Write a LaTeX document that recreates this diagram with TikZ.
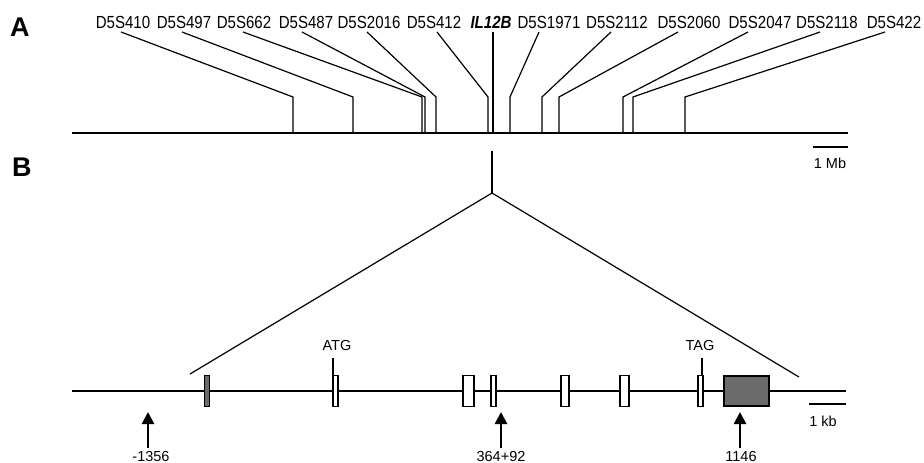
\documentclass[tikz,border=0pt]{standalone}
\usepackage{fontspec}
\setmainfont{Liberation Sans}
\usetikzlibrary{arrows.meta,calc}
\begin{document}
\begin{tikzpicture}[x=1pt,y=-1pt,
  mk/.style={anchor=base,inner sep=0pt,font=\fontsize{17.5}{18}\selectfont},
  panel/.style={anchor=base west,inner sep=0pt,font=\fontsize{27}{28}\selectfont\bfseries},
  small/.style={anchor=base,inner sep=0pt,font=\fontsize{14.5}{15}\selectfont},
  thin/.style={line width=1.2pt},
  chrom/.style={line width=2pt},
  exon/.style={draw,line width=1.1pt,fill=white,minimum width=5pt,minimum height=31pt,inner sep=0pt},
  gexon/.style={exon,fill=black!58},
  up/.style={line width=2.6pt,-{Triangle[width=12pt,length=12pt]}}]
\useasboundingbox (0,0) rectangle (924,463);
% panel letters
\node[panel] (pA) at (10,36) {A};
\node[panel] (pB) at (12,176) {B};
% marker labels
\def\lab#1#2#3{\node[mk] (#1) at (#2,28) {\scalebox{0.86}[1]{#3}};}
\lab{l1}{123}{D5S410}
\lab{l2}{184}{D5S497}
\lab{l3}{244}{D5S662}
\lab{l4}{306}{D5S487}
\lab{l5}{369}{D5S2016}
\lab{l6}{434}{D5S412}
\lab{l7}{491}{\textbf{\textit{IL12B}}}
\lab{l8}{549}{D5S1971}
\lab{l9}{617}{D5S2112}
\lab{l10}{689}{D5S2060}
\lab{l11}{760}{D5S2047}
\lab{l12}{827}{D5S2118}
\lab{l13}{894}{D5S422}
% chromosome
\coordinate (c0) at (72,133);
\coordinate (c1) at (848,133);
\draw[chrom] (c0) -- (c1);
% marker connectors: start, bend, foot
\def\mline#1#2#3#4{%
  \coordinate (s#1) at (#2,32);
  \coordinate (b#1) at (#3,#4);
  \coordinate (f#1) at (#3,133);
  \draw[thin] (s#1) -- (b#1) -- (f#1);}
\mline{1}{121}{293}{97}
\mline{2}{182}{353}{97}
\mline{3}{243}{422}{97}
\mline{4}{302}{425}{97}
\mline{5}{367}{436}{97}
\mline{6}{437}{488}{97}
\mline{7}{493}{493}{97}
\mline{8}{539}{510}{97}
\mline{9}{611}{542}{97}
\mline{10}{678}{559}{97}
\mline{11}{748}{623}{97}
\mline{12}{820}{633}{97}
\mline{13}{885}{685}{97}
% 1 Mb scale bar
\coordinate (mb0) at (813,147);
\coordinate (mb1) at (848,147);
\draw[chrom] (mb0) -- (mb1);
\node[small] (mbt) at (830,168) {1 Mb};
% zoom lines
\coordinate (z0) at (492,151);
\coordinate (z1) at (492,193);
\coordinate (zl) at (190,374);
\coordinate (zr) at (799,377);
\draw[thin] (z0) -- (z1);
\draw[thin] (zl) -- (z1) -- (zr);
% gene line
\coordinate (g0) at (72,391);
\coordinate (g1) at (846,391);
\draw[chrom] (g0) -- (g1);
% exons
\node[gexon,minimum width=4.5pt] (e1) at (207,391) {};
\node[exon] (e2) at (335.5,391) {};
\node[exon,minimum width=11pt] (e3) at (468.5,391) {};
\node[exon] (e4) at (493.5,391) {};
\node[exon,minimum width=8pt] (e5) at (565,391) {};
\node[exon,minimum width=9pt] (e6) at (624.5,391) {};
\node[exon] (e7) at (700.5,391) {};
\node[gexon,minimum width=45pt,minimum height=30pt] (e8) at (746.5,391) {};
% ATG / TAG
\node[small] (atg) at (337,350) {ATG};
\node[small] (tag) at (700,350) {TAG};
\coordinate (ta) at (333,358);
\coordinate (tt) at (702,358);
\draw[thin] (ta) -- (ta |- e2.north);
\draw[thin] (tt) -- (tt |- e7.north);
% 1 kb scale bar
\coordinate (kb0) at (809,404);
\coordinate (kb1) at (846,404);
\draw[chrom] (kb0) -- (kb1);
\node[small] (kbt) at (823,426) {1 kb};
% arrows
\node[small] (a1) at (151,461) {-1356};
\node[small] (a2) at (501,461) {364+92};
\node[small] (a3) at (741,461) {1146};
\coordinate (t1) at (148,412);
\coordinate (t2) at (501,412);
\coordinate (t3) at (740,412);
\draw[up] (148,448) -- (t1);
\draw[up] (501,448) -- (t2);
\draw[up] (740,448) -- (t3);
\end{tikzpicture}
\end{document}
